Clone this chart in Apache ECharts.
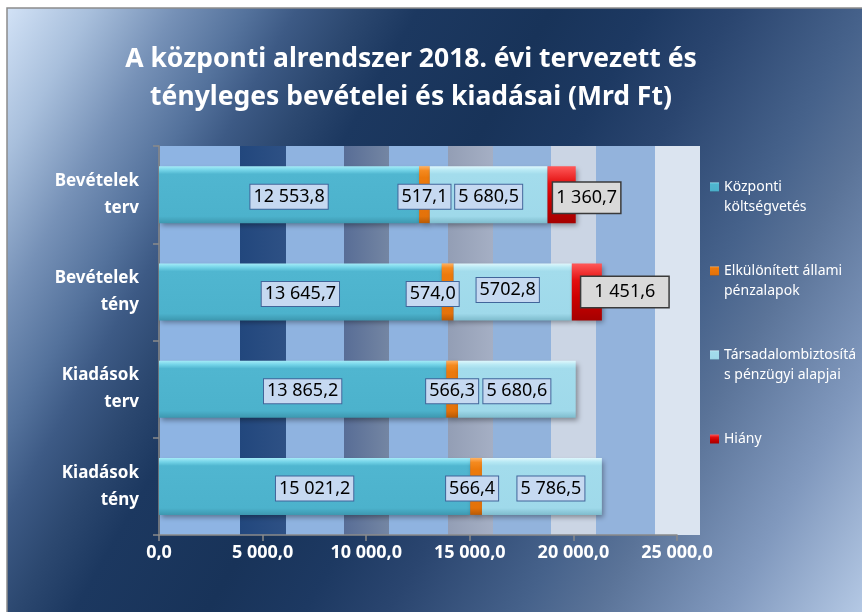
<!DOCTYPE html>
<html>
<head>
<meta charset="utf-8">
<script src="https://cdn.jsdelivr.net/npm/echarts@6/dist/echarts.min.js"></script>
<style>
html, body { margin: 0; padding: 0; background: #fff; }
#app { width: 862px; height: 612px; }
</style>
</head>
<body>
<div id="app"></div>
<script>
// adatok (Mrd Ft)
const categories = ['Bevételek\nterv', 'Bevételek\ntény', 'Kiadások\nterv', 'Kiadások\ntény'];
const seriesNames = ['Központi költségvetés', 'Elkülönített állami pénzalapok', 'Társadalombiztosítás pénzügyi alapjai', 'Hiány'];
const legendLabels = ['Központi\nköltségvetés', 'Elkülönített állami\npénzalapok', 'Társadalombiztosítá\ns pénzügyi alapjai', 'Hiány'];
const kozponti = [12553.8, 13645.7, 13865.2, 15021.2];
const elkulonitett = [517.1, 574.0, 566.3, 566.4];
const tarsadalom = [5680.5, 5702.8, 5680.6, 5786.5];
const hiany = [1360.7, 1451.6, null, null];
const axisMin = 0, axisMax = 25000, axisStep = 5000;

// cimke eltolasok [dx, dy] soronkent
const labelShift = [
	[[0, 2], [0, 2], [0, 2], [0, 2]],
	[[0, 2], [-15, 2], [0, 2], [-4, 2]],
	[[0, 2], [-5, -2], [0, 2], [9, 2]],
	[[25, 3], [38, 0], [0, 0], [0, 0]]
];
const labelText = { '2-1': '5702,8' };

function hu(v) {
	let parts = v.toFixed(1).split('.');
	return parts[0].replace(/\B(?=(\d{3})+(?!\d))/g, ' ') + ',' + parts[1];
}

function vgrad(stops) {
	return new echarts.graphic.LinearGradient(0, 0, 0, 1, stops.map(function (s) {
		return { offset: s[0], color: s[1] };
	}));
}

const barColors = [
	vgrad([[0, '#a6ecf8'], [0.07, '#74d4e8'], [0.14, '#50b6d0'], [0.88, '#4cb2cc'], [1, '#3d98b0']]),
	vgrad([[0, '#ffb466'], [0.08, '#f58a1f'], [0.2, '#ec7a0c'], [0.88, '#e4720a'], [1, '#b85a05']]),
	vgrad([[0, '#e0f8fd'], [0.07, '#b8e9f4'], [0.14, '#a3dcec'], [0.88, '#9fd9ea'], [1, '#7fbccd']]),
	vgrad([[0, '#ff5a5a'], [0.3, '#e31010'], [0.6, '#cc0000'], [1, '#a50000']])
];

const seriesData = [kozponti, elkulonitett, tarsadalom, hiany];

const series = seriesData.map(function (arr, si) {
	return {
		name: seriesNames[si],
		type: 'bar',
		stack: 'total',
		barWidth: 57,
		itemStyle: {
			color: barColors[si],
			shadowColor: 'rgba(0,0,0,0.35)',
			shadowBlur: 5,
			shadowOffsetX: 2,
			shadowOffsetY: 3
		},
		label: {
			show: true,
			position: 'inside',
			color: '#000',
			fontFamily: 'Noto Sans',
			fontSize: 18,
			backgroundColor: si === 3 ? '#d9d9d9' : '#c6d9f1',
			borderColor: si === 3 ? '#3a3a3a' : '#41659a',
			borderWidth: si === 3 ? 1.5 : 1,
			padding: si === 3 ? [6, 3] : [3, 3],
			formatter: function (p) {
				return labelText[si + '-' + p.dataIndex] || hu(p.value);
			}
		},
		data: arr.map(function (v, i) {
			if (v == null) return '-';
			let item = { value: v, label: { offset: labelShift[si][i] } };
			if (si === 3 && i === 1) item.label.padding = [6, 13];
			return item;
		})
	};
});

// plot terulet hattersavjai (kep-kitoltes utanzata)
const bands = [
	[160, 240, '#8eb4e3'], [240, 286, ['#22477d', '#2e5185']], [286, 344, '#8fb3e0'],
	[344, 389, ['#586d96', '#7486a3']], [389, 448, '#8fb3e0'], [448, 493, ['#939eb5', '#a5afc4']],
	[493, 551, '#92b3dc'], [551, 596, '#cbd5e4'], [596, 655, '#93b3dc'], [655, 700, '#dbe4f0']
];
const plotTop = 146, plotBottom = 535;

const graphics = [{
	type: 'rect',
	shape: { x: 7, y: 8, width: 870, height: 620 },
	style: {
		fill: new echarts.graphic.LinearGradient(7, 8, 920, 530, [
			{ offset: 0, color: '#d2e2f6' },
			{ offset: 0.07, color: '#a8bfdc' },
			{ offset: 0.14, color: '#7691b7' },
			{ offset: 0.2, color: '#54729c' },
			{ offset: 0.24, color: '#3d5a85' },
			{ offset: 0.29, color: '#2c4870' },
			{ offset: 0.34, color: '#1c3860' },
			{ offset: 0.45, color: '#183359' },
			{ offset: 0.53, color: '#1d3962' },
			{ offset: 0.6, color: '#2a456f' },
			{ offset: 0.71, color: '#46628b' },
			{ offset: 0.77, color: '#5a7398' },
			{ offset: 0.88, color: '#8199be' },
			{ offset: 1, color: '#b8cce7' }
		], true),
		stroke: '#8c8c8c',
		lineWidth: 1.5
	},
	z: -10
}];
bands.forEach(function (b) {
	let fill = Array.isArray(b[2])
		? new echarts.graphic.LinearGradient(0, 0, 1, 0, [{ offset: 0, color: b[2][0] }, { offset: 1, color: b[2][1] }])
		: b[2];
	graphics.push({
		type: 'rect',
		shape: { x: b[0], y: plotTop, width: b[1] - b[0], height: plotBottom - plotTop },
		style: { fill: fill },
		z: -9
	});
});

const option = {
	animation: false,
	title: {
		text: 'A központi alrendszer 2018. évi tervezett és\ntényleges bevételei és kiadásai (Mrd Ft)',
		left: 406,
		top: 35,
		textAlign: 'center',
		textStyle: {
			color: '#fff',
			fontFamily: 'Noto Sans',
			fontWeight: 'bold',
			fontSize: 26.5,
			lineHeight: 38
		}
	},
	legend: {
		orient: 'vertical',
		left: 705,
		top: 152,
		itemWidth: 9,
		itemHeight: 9,
		itemGap: 24,
		icon: 'rect',
		// ures elso sor: az ikon az elso szovegsorhoz igazodik
		formatter: function (name) {
			let t = legendLabels[seriesNames.indexOf(name)];
			return t.indexOf('\n') < 0 ? '\n' + t + '\n' : '\n' + t;
		},
		textStyle: {
			color: '#fff',
			fontFamily: 'Noto Sans',
			fontSize: 14,
			lineHeight: 20
		},
		itemStyle: { shadowBlur: 0, shadowOffsetX: 0, shadowOffsetY: 0 }
	},
	grid: {
		left: 159,
		top: plotTop,
		width: 518,
		height: plotBottom - plotTop,
		containLabel: false
	},
	xAxis: {
		type: 'value',
		min: axisMin,
		max: axisMax,
		interval: axisStep,
		axisLine: { show: true, lineStyle: { color: '#8a8a8a', width: 1.5 } },
		axisTick: { show: true, length: 6, lineStyle: { color: '#8a8a8a', width: 1.5 } },
		splitLine: { show: false },
		axisLabel: {
			color: '#fff',
			fontFamily: 'Noto Sans',
			fontWeight: 'bold',
			fontSize: 18,
			margin: 9,
			formatter: function (v) { return hu(v); }
		}
	},
	yAxis: {
		type: 'category',
		inverse: true,
		data: categories,
		axisLine: { show: true, lineStyle: { color: '#8a8a8a', width: 1.5 } },
		axisTick: { show: true, length: 6, lineStyle: { color: '#8a8a8a', width: 1.5 } },
		axisLabel: {
			color: '#fff',
			fontFamily: 'Noto Sans',
			fontWeight: 'bold',
			fontSize: 17,
			lineHeight: 27,
			align: 'right',
			margin: 20
		}
	},
	graphic: graphics,
	series: series
};

let chart = echarts.init(document.getElementById('app'));
chart.setOption(option);
</script>
</body>
</html>
